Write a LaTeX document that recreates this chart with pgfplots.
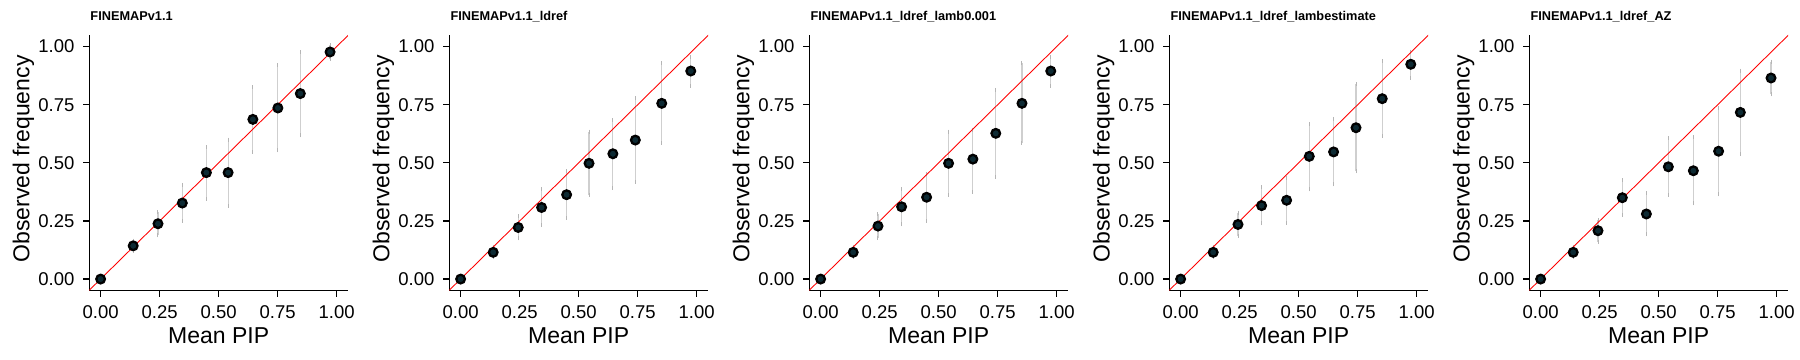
\documentclass[border=0pt]{standalone}
\usepackage{pgfplots}
\pgfplotsset{compat=1.18}
\usepackage{pgfplotstable}
\usepackage{fontspec}
\setmainfont{Liberation Sans}
\definecolor{dot}{HTML}{0D2A33}
\definecolor{ebar}{HTML}{CFCFCF}
\definecolor{ecap}{HTML}{B5B5B5}

\pgfplotstableread{
x y lo hi
0.000 0.000 0.000 0.000
0.138 0.143 0.122 0.165
0.243 0.238 0.188 0.288
0.346 0.327 0.250 0.405
0.448 0.458 0.346 0.568
0.540 0.458 0.316 0.600
0.645 0.687 0.548 0.826
0.751 0.736 0.554 0.920
0.846 0.798 0.618 0.976
0.972 0.977 0.948 1.006
}\tA
\pgfplotstableread{
x y lo hi
0.000 0.000 0.000 0.000
0.138 0.115 0.093 0.136
0.244 0.222 0.175 0.270
0.343 0.308 0.232 0.387
0.449 0.363 0.263 0.463
0.544 0.498 0.362 0.634
0.645 0.539 0.393 0.684
0.740 0.598 0.419 0.778
0.852 0.756 0.587 0.928
0.975 0.895 0.831 0.957
}\tB
\pgfplotstableread{
x y lo hi
0.000 0.000 0.000 0.000
0.138 0.115 0.093 0.136
0.243 0.228 0.178 0.278
0.343 0.311 0.235 0.387
0.449 0.352 0.251 0.452
0.542 0.498 0.362 0.634
0.645 0.516 0.376 0.641
0.742 0.627 0.440 0.814
0.853 0.756 0.587 0.928
0.975 0.895 0.831 0.957
}\tC
\pgfplotstableread{
x y lo hi
0.000 0.000 0.000 0.000
0.138 0.115 0.093 0.136
0.243 0.235 0.187 0.286
0.343 0.316 0.240 0.395
0.449 0.339 0.242 0.433
0.545 0.528 0.386 0.667
0.648 0.547 0.407 0.689
0.743 0.651 0.463 0.838
0.854 0.776 0.615 0.937
0.975 0.924 0.867 0.978
}\tD
\pgfplotstableread{
x y lo hi
0.000 0.000 0.000 0.000
0.138 0.115 0.093 0.136
0.243 0.208 0.161 0.254
0.346 0.350 0.275 0.426
0.448 0.280 0.192 0.369
0.541 0.483 0.362 0.605
0.647 0.466 0.326 0.610
0.754 0.550 0.364 0.735
0.846 0.717 0.538 0.897
0.976 0.865 0.795 0.935
}\tE

\newcommand{\panel}[3]{%
\begin{axis}[
  at={(#1,27.72pt)}, anchor=south west,
  scale only axis, width=103.48pt, height=102.28pt,
  xmin=-0.048, xmax=1.048, ymin=-0.05, ymax=1.05,
  axis x line*=bottom, axis y line*=left,
  axis line style={line width=0.5pt, black, -},
  xtick={0,0.25,0.5,0.75,1}, ytick={0,0.25,0.5,0.75,1},
  xticklabels={0.00,0.25,0.50,0.75,1.00},
  yticklabels={0.00,0.25,0.50,0.75,1.00},
  tick align=outside, major tick length=2.4pt,
  tick style={line width=0.5pt, black},
  ticklabel style={font=\fontsize{7.4pt}{8pt}\selectfont},
  xlabel={Mean PIP}, ylabel={Observed frequency},
  label style={font=\fontsize{9.2pt}{10pt}\selectfont},
  xlabel style={at={(axis description cs:0.5,-0.2057)}, anchor=base},
  ylabel style={at={(axis description cs:-0.2312,0.515)}, anchor=base},
  title={#2},
  every axis title shift=0pt,
  title style={at={(axis description cs:0.0027,1.056)}, anchor=base west, inner sep=0pt, font=\bfseries\fontsize{5.1pt}{6pt}\selectfont},
]
\addplot[only marks, mark=none, forget plot,
  error bars/.cd, y dir=both, y explicit,
  error bar style={draw=ebar, line width=0.45pt},
  error mark options={draw=ecap, mark size=0.8pt, line width=0.4pt}]
  table[x=x, y=y, y error plus expr=\thisrow{hi}-\thisrow{y}, y error minus expr=\thisrow{y}-\thisrow{lo}]{#3};
\addplot[only marks, mark=*, mark size=1.4pt, mark options={fill=dot, draw=black, line width=0.3pt}]
  table[x=x, y=y]{#3};
\addplot[red, line width=0.35pt] coordinates {(-0.06,-0.06) (1.06,1.06)};
\end{axis}}

\begin{document}
\begin{tikzpicture}
\useasboundingbox (0,0) rectangle (720pt,144pt);
\panel{35.72pt}{FINEMAPv1.1}{\tA}
\panel{179.72pt}{FINEMAPv1.1\_ldref}{\tB}
\panel{323.72pt}{FINEMAPv1.1\_ldref\_lamb0.001}{\tC}
\panel{467.72pt}{FINEMAPv1.1\_ldref\_lambestimate}{\tD}
\panel{611.72pt}{FINEMAPv1.1\_ldref\_AZ}{\tE}
\end{tikzpicture}
\end{document}
